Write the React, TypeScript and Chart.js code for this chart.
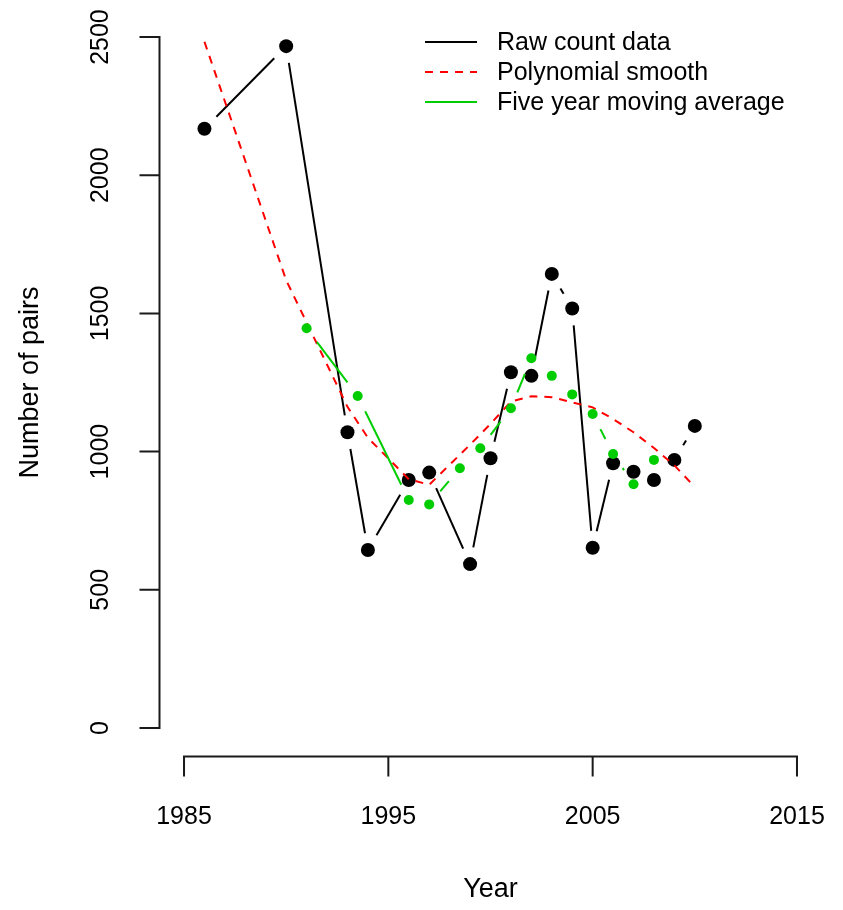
import React, { useEffect, useRef } from "react";
import { Chart, registerables } from "chart.js";

Chart.register(...registerables);

// ---- data ----
const rawYears = [1986, 1990, 1993, 1994, 1996, 1997, 1999, 2000, 2001, 2002, 2003, 2004, 2005, 2006, 2007, 2008, 2009, 2010];
const rawCounts = [2168, 2467, 1070, 644, 897, 924, 593, 976, 1287, 1274, 1643, 1518, 652, 958, 927, 897, 970, 1093];

const smoothValues = [2483, 1620, 1162, 1050, 900, 880, 1025, 1100, 1181, 1200, 1197, 1178, 1160, 1118, 1070, 1013, 950, 872];

const maYears = [1991, 1993.5, 1996, 1997, 1998.5, 1999.5, 2001, 2002, 2003, 2004, 2005, 2006, 2007, 2008];
const maValues = [1446, 1201, 825, 809, 940, 1012, 1157, 1338, 1274, 1207, 1136, 991, 882, 970];

const xTicks = [1985, 1995, 2005, 2015];
const yTicks = [0, 500, 1000, 1500, 2000, 2500];

const legendLabels = ["Raw count data", "Polynomial smooth", "Five year moving average"];
const xTitle = "Year";
const yTitle = "Number of pairs";

const BLACK = "#000000";
const RED = "#FF0000";
const GREEN = "#00CD00";
const FONT = "'Liberation Sans', Arial, sans-serif";

const pairs = (xs: number[], ys: number[]) => xs.map((x, i) => ({ x, y: ys[i] }));

const GAP = 17;

const gapLinePlugin = {
  id: "gapLine",
  beforeDatasetDraw(chart: any, args: any) {
    const ds = chart.data.datasets[args.index];
    if (!ds.gapColor) return;
    const pts = args.meta.data;
    const ctx = chart.ctx;
    ctx.save();
    ctx.strokeStyle = ds.gapColor;
    ctx.lineWidth = 2;
    ctx.lineCap = "butt";
    for (let i = 0; i < pts.length - 1; i++) {
      const a = pts[i];
      const b = pts[i + 1];
      const dx = b.x - a.x;
      const dy = b.y - a.y;
      const d = Math.hypot(dx, dy);
      if (d <= 2 * GAP) continue;
      const ux = dx / d;
      const uy = dy / d;
      ctx.beginPath();
      ctx.moveTo(a.x + ux * GAP, a.y + uy * GAP);
      ctx.lineTo(b.x - ux * GAP, b.y - uy * GAP);
      ctx.stroke();
    }
    ctx.restore();
  },
};

const axesPlugin = {
  id: "rAxes",
  afterDraw(chart: any) {
    const ctx = chart.ctx;
    const ca = chart.chartArea;
    const xs = chart.scales.x;
    const ys = chart.scales.y;
    const TL = 19;
    ctx.save();
    ctx.strokeStyle = "#1a1a1a";
    ctx.fillStyle = "#000";
    ctx.lineWidth = 2;
    ctx.lineCap = "square";

    // x axis
    const ay = ca.bottom + 1;
    ctx.beginPath();
    ctx.moveTo(xs.getPixelForValue(xTicks[0]), ay);
    ctx.lineTo(xs.getPixelForValue(xTicks[xTicks.length - 1]), ay);
    for (const t of xTicks) {
      const px = xs.getPixelForValue(t);
      ctx.moveTo(px, ay);
      ctx.lineTo(px, ay + TL);
    }
    ctx.stroke();
    ctx.font = `25px ${FONT}`;
    ctx.textAlign = "center";
    ctx.textBaseline = "middle";
    for (const t of xTicks) {
      ctx.fillText(String(t), xs.getPixelForValue(t), 817);
    }
    ctx.font = `27px ${FONT}`;
    ctx.fillText(xTitle, (ca.left + ca.right) / 2, 890);

    // y axis
    const ax = ca.left;
    ctx.beginPath();
    ctx.moveTo(ax, ys.getPixelForValue(yTicks[0]));
    ctx.lineTo(ax, ys.getPixelForValue(yTicks[yTicks.length - 1]));
    for (const t of yTicks) {
      const py = ys.getPixelForValue(t);
      ctx.moveTo(ax, py);
      ctx.lineTo(ax - TL, py);
    }
    ctx.stroke();
    ctx.font = `25px ${FONT}`;
    for (const t of yTicks) {
      const py = ys.getPixelForValue(t);
      ctx.save();
      ctx.translate(101, py);
      ctx.rotate(-Math.PI / 2);
      ctx.fillText(String(t), 0, 0);
      ctx.restore();
    }
    ctx.save();
    ctx.font = `27px ${FONT}`;
    ctx.translate(31, (ca.top + ca.bottom) / 2);
    ctx.rotate(-Math.PI / 2);
    ctx.fillText(yTitle, 0, 0);
    ctx.restore();

    // legend
    const styles = [
      { color: BLACK, dash: [] as number[] },
      { color: RED, dash: [8, 7] },
      { color: GREEN, dash: [] as number[] },
    ];
    ctx.font = `25px ${FONT}`;
    ctx.textAlign = "left";
    legendLabels.forEach((lab, i) => {
      const y = 42 + 30 * i;
      ctx.beginPath();
      ctx.strokeStyle = styles[i].color;
      ctx.setLineDash(styles[i].dash);
      ctx.lineCap = "butt";
      ctx.moveTo(425, y);
      ctx.lineTo(477, y);
      ctx.stroke();
      ctx.setLineDash([]);
      ctx.fillText(lab, 497, y + 1);
    });
    ctx.restore();
  },
};

export default function App() {
  const ref = useRef<HTMLCanvasElement | null>(null);
  useEffect(() => {
    if (!ref.current) return;
    const xPad = (xTicks[xTicks.length - 1] - xTicks[0]) * 0.04;
    const yPad = (yTicks[yTicks.length - 1] - yTicks[0]) * 0.04;
    const chart = new Chart(ref.current, {
      type: "scatter",
      data: {
        datasets: [
          {
            label: legendLabels[0],
            data: pairs(rawYears, rawCounts),
            showLine: false,
            pointRadius: 7,
            pointBackgroundColor: BLACK,
            pointBorderWidth: 0,
            borderColor: BLACK,
            gapColor: BLACK,
            order: 3,
          } as any,
          {
            label: legendLabels[1],
            type: "line",
            data: pairs(rawYears, smoothValues),
            showLine: true,
            borderColor: RED,
            borderWidth: 2,
            borderDash: [8, 7],
            pointRadius: 0,
            tension: 0,
            fill: false,
            order: 2,
          } as any,
          {
            label: legendLabels[2],
            data: pairs(maYears, maValues),
            showLine: false,
            pointRadius: 5,
            pointBackgroundColor: GREEN,
            pointBorderWidth: 0,
            borderColor: GREEN,
            gapColor: GREEN,
            order: 1,
          } as any,
        ],
      },
      options: {
        animation: false,
        responsive: false,
        maintainAspectRatio: false,
        layout: { padding: { left: 159.5, right: 21.5, top: 9.4, bottom: 154.4 } },
        scales: {
          x: { type: "linear", min: xTicks[0] - xPad, max: xTicks[xTicks.length - 1] + xPad, display: false },
          y: { type: "linear", min: yTicks[0] - yPad, max: yTicks[yTicks.length - 1] + yPad, display: false },
        },
        plugins: {
          legend: { display: false },
          tooltip: { enabled: false },
          title: { display: false },
        },
        events: [],
      },
      plugins: [gapLinePlugin, axesPlugin],
    });
    return () => chart.destroy();
  }, []);
  return (
    <div style={{ position: "absolute", left: 0, top: 0, width: 843, height: 910, background: "#fff" }}>
      <canvas ref={ref} width={843} height={910} style={{ display: "block" }} />
    </div>
  );
}
